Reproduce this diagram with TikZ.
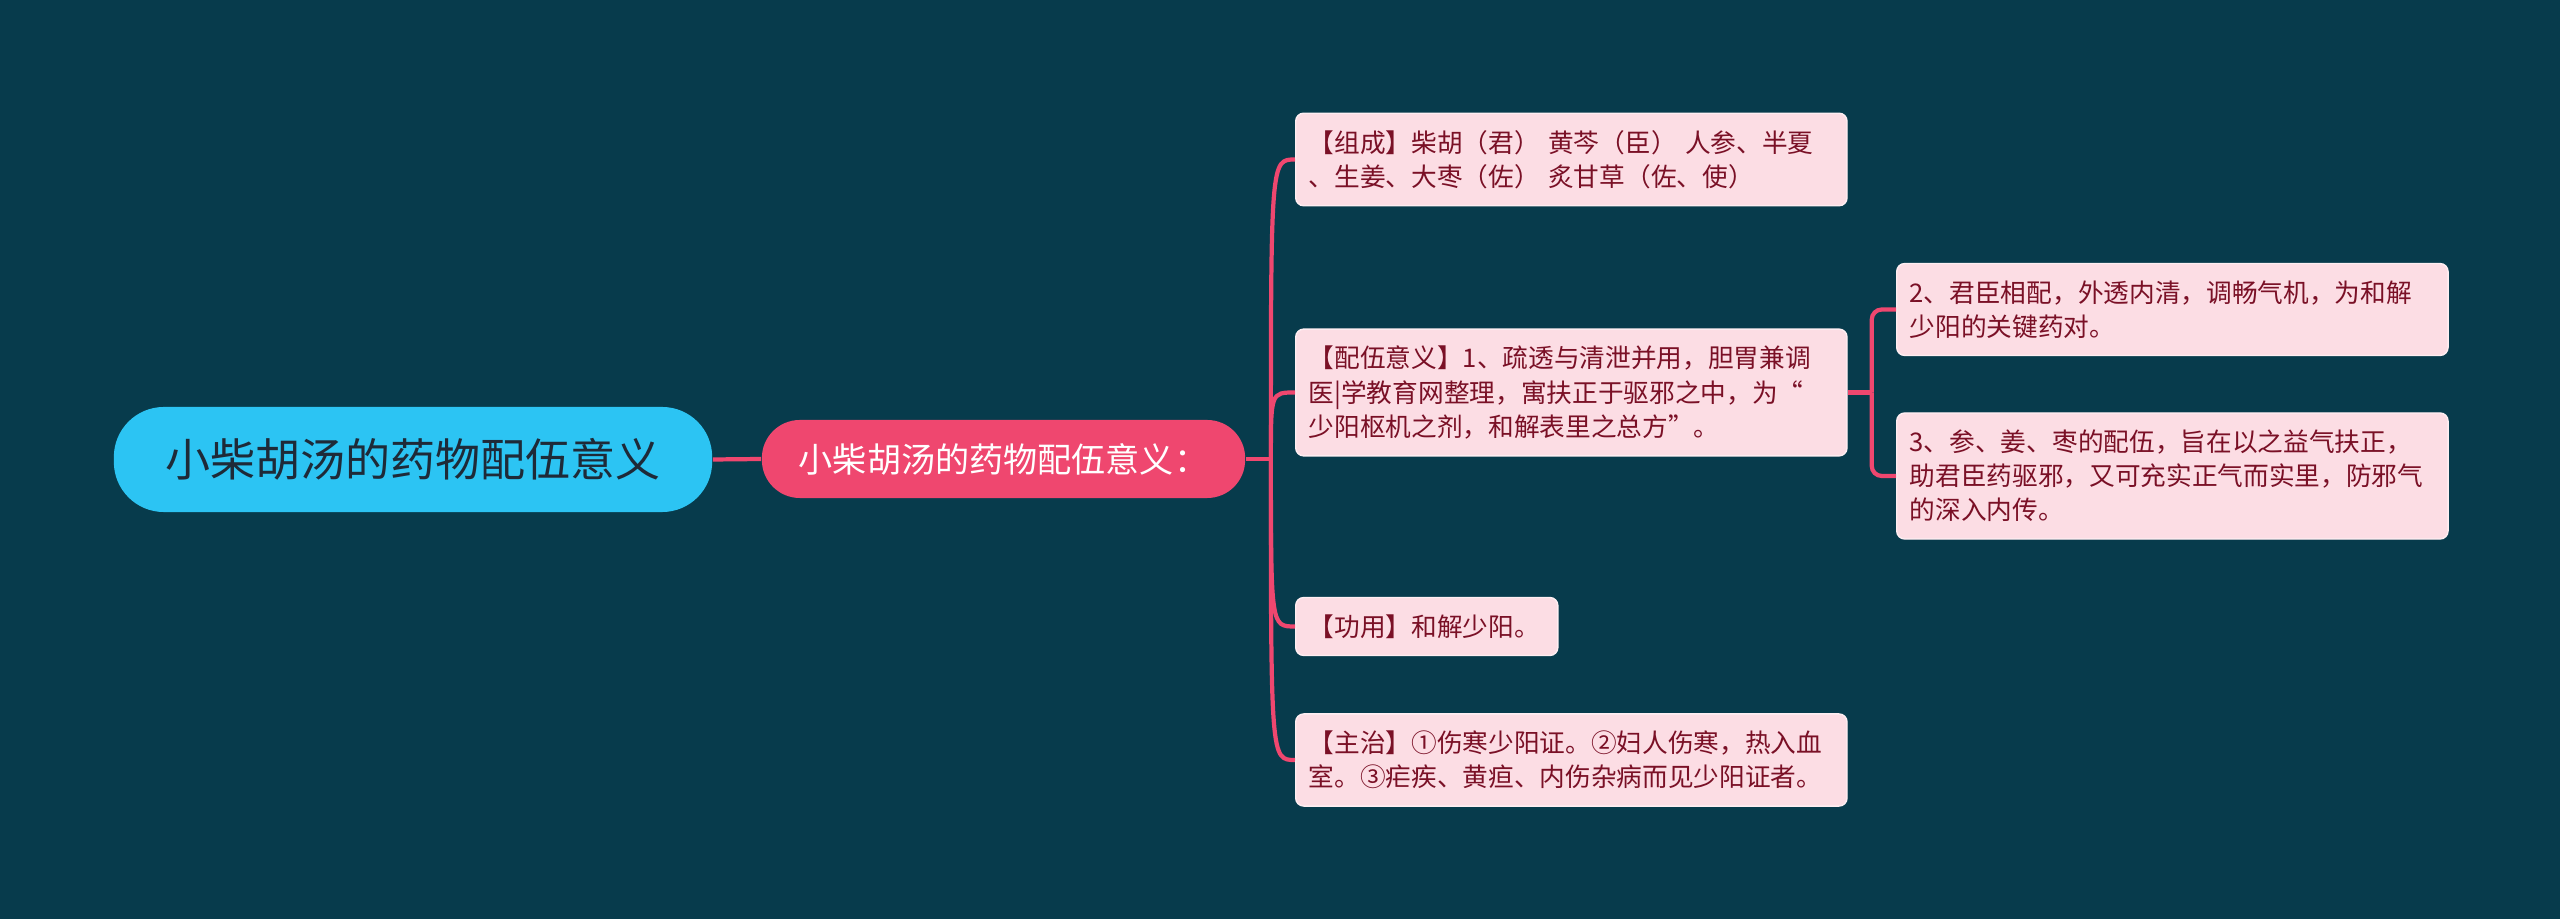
\documentclass[tikz,border=0pt]{standalone}
\definecolor{nightteal}{RGB}{7, 59, 76}
\definecolor{skyblue}{RGB}{44, 196, 243}
\definecolor{rosered}{RGB}{239, 71, 111}
\definecolor{blush}{RGB}{252, 221, 228}
\definecolor{wine}{RGB}{122, 16, 38}
\definecolor{inkblue}{RGB}{30, 42, 56}
\usepackage{tikz}
\usepackage{fontspec}
\usetikzlibrary{positioning, calc}
\newfontfamily\cjk{Noto Sans CJK SC}
\tikzset{
  rootnode/.style={rectangle, rounded corners=0.5cm, fill=skyblue, minimum width=5.98cm, minimum height=1.05cm, font=\cjk\fontsize{12.8pt}{15pt}\selectfont, text=inkblue},
  subnode/.style={rectangle, rounded corners=0.38cm, fill=rosered, minimum width=4.83cm, minimum height=0.78cm, font=\cjk\fontsize{9.7pt}{12pt}\selectfont, text=white},
  leafnode/.style={rectangle, rounded corners=0.08cm, fill=blush, draw=blush!50!white, line width=0.4pt, text width=#1, inner xsep=0.13cm, inner ysep=0.17cm, align=left, font=\cjk\fontsize{7.3pt}{9.7pt}\selectfont, text=wine, anchor=west},
  leafnode/.default=5.25cm,
  link/.style={draw=rosered, line width=1.2pt},
}
\begin{document}
\begin{tikzpicture}[x=0.01cm, y=-0.01cm]
\fill[nightteal] (0,0) rectangle (2560,919);
\useasboundingbox (0,0) rectangle (2560,919);
% root and main topic
\node[rootnode] (root) at (413,459.5) {小柴胡汤的药物配伍意义};
\node[subnode] (sub) at (1003.5,459) {小柴胡汤的药物配伍意义：};
% leaves
\node[leafnode] (zucheng) at (1295,159.5) {【组成】柴胡（君） 黄芩（臣） 人参、半夏\\、生姜、大枣（佐） 炙甘草（佐、使）};
\node[leafnode] (peiwu) at (1295,392.5) {【配伍意义】1、疏透与清泄并用，胆胃兼调\\医|学教育网整理，寓扶正于驱邪之中，为“\\少阳枢机之剂，和解表里之总方”。};
\node[leafnode=2.36cm] (gongyong) at (1295,626.5) {【功用】和解少阳。};
\node[leafnode] (zhuzhi) at (1295,760) {【主治】①伤寒少阳证。②妇人伤寒，热入血\\室。③疟疾、黄疸、内伤杂病而见少阳证者。};
\node[leafnode] (junchen) at (1896,309.5) {2、君臣相配，外透内清，调畅气机，为和解\\少阳的关键药对。};
\node[leafnode] (shenjiang) at (1896,476) {3、参、姜、枣的配伍，旨在以之益气扶正，\\助君臣药驱邪，又可充实正气而实里，防邪气\\的深入内传。};
% connectors
\coordinate[right=0.25cm of sub.east] (trunk);
\coordinate[right=0.24cm of peiwu.east] (fork);
\draw[link] (root.east) -- (sub.west);
\draw[link] (sub.east) -- (trunk);
\foreach \leaf in {zucheng,peiwu,gongyong,zhuzhi}
  \draw[link] (trunk) .. controls (trunk |- \leaf.west) .. (\leaf.west);
\draw[link] (peiwu.east) -- (fork);
\draw[link, rounded corners=0.1cm] (fork) |- (junchen.west);
\draw[link, rounded corners=0.1cm] (fork) |- (shenjiang.west);
\end{tikzpicture}
\end{document}
